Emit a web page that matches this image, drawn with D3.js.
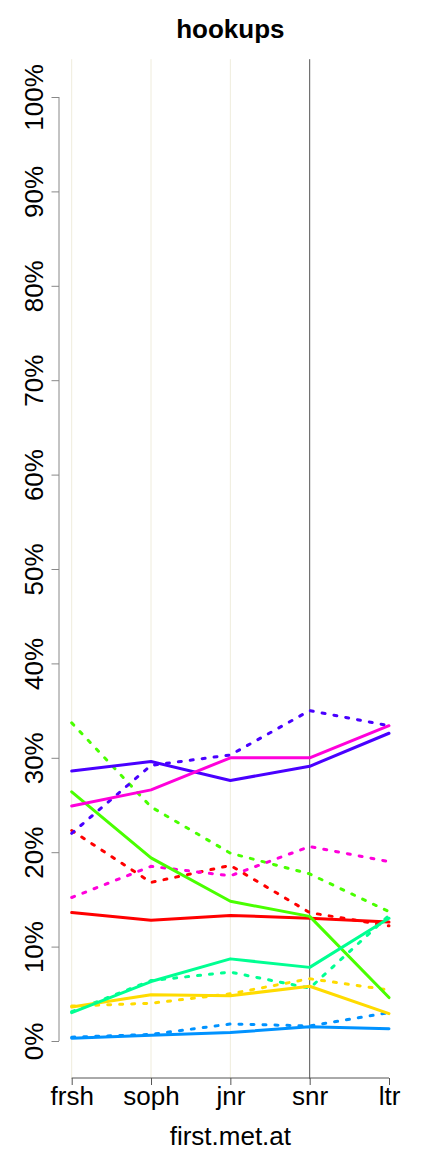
<!DOCTYPE html>
<html>
<head>
<meta charset="utf-8">
<script src="https://cdn.jsdelivr.net/npm/d3@7"></script>
<style>
html,body{margin:0;padding:0;background:#fff;}
svg{display:block;}
text{font-family:"Liberation Sans",Arial,Helvetica,sans-serif;fill:#000;}
</style>
</head>
<body>
<script>
const categories = ["frsh","soph","jnr","snr","ltr"];
const yTicks = [0,10,20,30,40,50,60,70,80,90,100];
const seriesColors = ["#FF0000","#FFDB00","#49FF00","#00FF92","#0092FF","#4900FF","#FF00DB"];
// solid lines, one per colour (percent)
const solidRed     = [13.6,12.8,13.3,13.0,12.6];
const solidYellow  = [3.6,4.9,4.8,5.8,2.9];
const solidGreen   = [26.4,19.4,14.8,13.2,4.6];
const solidSpring  = [3.0,6.3,8.7,7.8,13.0];
const solidAzure   = [0.3,0.6,0.9,1.5,1.3];
const solidBlue    = [28.6,29.6,27.6,29.1,32.6];
const solidMagenta = [24.9,26.6,30.0,30.0,33.4];
// dashed lines, one per colour (percent)
const dashRed      = [22.3,16.8,18.6,13.6,12.2];
const dashYellow   = [3.7,4.0,5.0,6.6,5.4];
const dashGreen    = [33.7,24.8,19.9,17.7,13.7];
const dashSpring   = [3.1,6.4,7.3,5.6,13.3];
const dashAzure    = [0.4,0.7,1.8,1.6,3.0];
const dashBlue     = [22.0,29.2,30.3,35.0,33.4];
const dashMagenta  = [15.2,18.5,17.5,20.6,19.0];

const solidSeries = [solidRed,solidYellow,solidGreen,solidSpring,solidAzure,solidBlue,solidMagenta];
const dashSeries  = [dashRed,dashYellow,dashGreen,dashSpring,dashAzure,dashBlue,dashMagenta];

const W = 432, H = 1152;
const svg = d3.select("body").append("svg").attr("width",W).attr("height",H);

const plotL = 59, plotR = 401.7, plotT = 59.2, plotB = 1078.8;
const x = d3.scalePoint().domain(categories).range([71.7,389]);
const y = d3.scaleLinear().domain([0,100]).range([1041,97]);

// vertical guides
const gridCats = ["frsh","soph","jnr"];
svg.append("g").selectAll("line").data(gridCats).join("line")
  .attr("x1",d=>x(d)).attr("x2",d=>x(d))
  .attr("y1",plotT).attr("y2",plotB)
  .attr("stroke","#efecdc").attr("stroke-width",1);
svg.append("line")
  .attr("x1",x("snr")).attr("x2",x("snr"))
  .attr("y1",plotT).attr("y2",plotB)
  .attr("stroke","#555").attr("stroke-width",1);

// lines
const line = d3.line().x((d,i)=>x(categories[i])).y(d=>y(d));
const lg = svg.append("g");
dashSeries.forEach((s,i)=>{
  lg.append("path").attr("d",line(s)).attr("fill","none")
    .attr("stroke",seriesColors[i]).attr("stroke-width",3)
    .attr("stroke-dasharray","3,9").attr("stroke-linecap","round");
});
solidSeries.forEach((s,i)=>{
  lg.append("path").attr("d",line(s)).attr("fill","none")
    .attr("stroke",seriesColors[i]).attr("stroke-width",3)
    .attr("stroke-linecap","round").attr("stroke-linejoin","round");
});

// y axis
const yAxis = d3.axisLeft(y).tickValues(yTicks).tickSize(7.5).tickFormat(d=>d+"%");
const ya = svg.append("g").attr("transform",`translate(${plotL},0)`).call(yAxis);
ya.select(".domain").attr("stroke","#888").attr("d",`M0,${y(100)}V${y(0)}`);
ya.selectAll(".tick line").attr("stroke","#888");
ya.selectAll(".tick text")
  .attr("x",null).attr("dy",null)
  .attr("transform","translate(-16,0) rotate(-90)")
  .attr("text-anchor","middle")
  .style("font-size","26px").style("font-family","'Liberation Sans',Arial,sans-serif");

// x axis
const xAxis = d3.axisBottom(x).tickSize(7).tickSizeOuter(0);
const xa = svg.append("g").attr("transform",`translate(0,1078)`).call(xAxis);
xa.select(".domain").attr("stroke","#555").attr("d",`M${x("frsh")},0H${x("ltr")}`);
xa.selectAll(".tick line").attr("stroke","#555");
xa.selectAll(".tick text").attr("y",27).attr("dy",null)
  .style("font-size","26px").style("font-family","'Liberation Sans',Arial,sans-serif");

// title and axis label
svg.append("text").attr("x",(plotL+plotR)/2).attr("y",38)
  .attr("text-anchor","middle").style("font-size","26px").style("font-weight","bold")
  .text("hookups");
svg.append("text").attr("x",(plotL+plotR)/2).attr("y",1145)
  .attr("text-anchor","middle").style("font-size","26px")
  .text("first.met.at");
</script>
</body>
</html>
